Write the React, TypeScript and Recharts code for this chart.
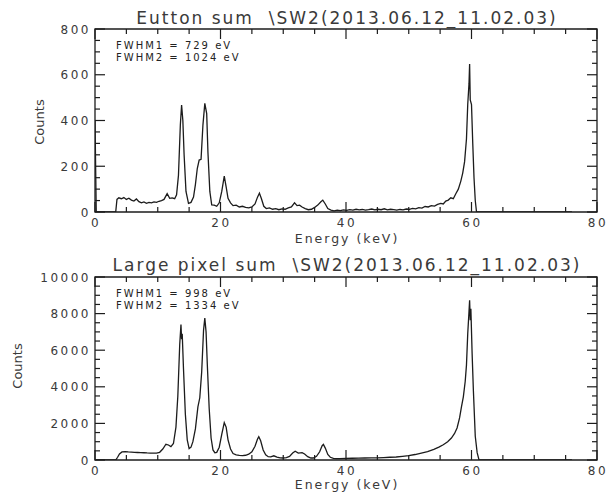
import { LineChart, Line, XAxis, YAxis, ReferenceLine, ReferenceArea } from "recharts";

// energy (keV) and counts
const buttonEnergy = [
  0, 0.2, 3.3, 3.5, 3.8, 4.2, 4.6, 5.0, 5.4, 5.8,
  6.2, 6.6, 7.0, 7.4, 7.8, 8.2, 8.6, 9.0, 9.4, 9.8,
  10.2, 10.6, 11.0, 11.5, 11.9, 12.3, 12.7, 13.0, 13.3, 13.6,
  13.8, 14.0, 14.2, 14.5, 14.9, 15.3, 15.7, 16.0, 16.3, 16.6,
  16.9, 17.2, 17.5, 17.8, 18.0, 18.3, 18.6, 19.0, 19.4, 19.8,
  20.2, 20.6, 20.9, 21.2, 21.6, 22.0, 22.5, 23.0, 23.5, 24.0,
  24.5, 25.0, 25.5, 25.9, 26.2, 26.5, 26.9, 27.3, 27.8, 28.3,
  28.8, 29.3, 29.8, 30.3, 30.8, 31.3, 31.8, 32.2, 32.6, 33.0,
  33.5, 34.0, 34.5, 35.0, 35.5, 36.0, 36.3, 36.7, 37.1, 37.6,
  38.1, 38.6, 39.1, 39.6, 40.1, 40.6, 41.1, 41.6, 42.1, 42.6,
  43.1, 43.6, 44.1, 44.6, 45.1, 45.6, 46.1, 46.6, 47.1, 47.6,
  48.1, 48.6, 49.1, 49.6, 50.1, 50.6, 51.1, 51.6, 52.1, 52.6,
  53.1, 53.6, 54.1, 54.6, 55.1, 55.5, 55.9, 56.3, 56.7, 57.1,
  57.5, 57.9, 58.3, 58.6, 58.9, 59.2, 59.4, 59.6, 59.7, 59.8,
  60.0, 60.2, 60.4, 60.6, 60.8, 76,
];
const buttonCounts = [
  400, 0, 0, 55, 62, 58, 63, 55, 60, 52,
  48, 57, 45, 40, 44, 38, 42, 40, 44, 42,
  47, 50, 55, 80, 60, 62, 58, 75, 160, 380,
  468, 400, 250, 90, 38, 42, 65, 120, 190, 227,
  230, 380, 475, 430, 260, 90, 31, 30, 25, 40,
  90, 157, 110, 60, 40, 28, 30, 22, 25, 20,
  18, 22, 35, 65, 82, 60, 25, 15, 18, 12,
  15, 10, 14, 12, 18, 22, 40, 28, 30, 22,
  15, 10, 12, 20, 30, 45, 52, 35, 15, 8,
  5, 8, 6, 9, 7, 10, 8, 12, 9, 11,
  8, 10, 13, 9, 12, 10, 14, 9, 12, 10,
  8, 11, 9, 13, 12, 16, 14, 19, 17, 24,
  22, 28, 26, 33, 38, 35, 48, 52, 62, 58,
  80, 100, 135, 170, 220, 320, 470, 560, 647, 490,
  470, 300, 150, 50, 0, 0,
];

const pixelEnergy = [
  0, 3.3, 3.6, 3.9, 4.3, 4.8, 5.3, 5.8, 6.3, 6.8,
  7.3, 7.8, 8.3, 8.8, 9.3, 9.8, 10.3, 10.8, 11.3, 11.7,
  12.1, 12.5, 12.9, 13.2, 13.5, 13.7, 13.8, 13.9, 14.1, 14.4,
  14.7, 15.0, 15.3, 15.6, 16.0, 16.4, 16.7, 17.0, 17.3, 17.5,
  17.7, 17.9, 18.2, 18.5, 18.8, 19.1, 19.4, 19.8, 20.2, 20.6,
  20.9, 21.2, 21.6, 22.0, 22.5, 23.0, 23.5, 24.0, 24.5, 25.0,
  25.5, 25.9, 26.1, 26.4, 26.8, 27.2, 27.6, 28.0, 28.5, 29.0,
  29.5, 30.0, 30.5, 31.0, 31.5, 31.9, 32.4, 33.0, 33.4, 33.9,
  34.4, 34.8, 35.3, 35.8, 36.2, 36.4, 36.7, 37.1, 37.5, 38.0,
  38.5, 39.0, 40, 41, 42, 43, 44, 45, 46, 47,
  48, 49, 50, 51, 52, 53, 54, 54.8, 55.5, 56.2,
  56.8, 57.3, 57.7, 58.1, 58.4, 58.7, 59.0, 59.2, 59.4, 59.6,
  59.7, 59.8, 59.9, 60.1, 60.3, 60.6, 60.9, 61.2, 76,
];
const pixelCounts = [
  0, 0, 150, 330, 440, 460, 440, 430, 420, 410,
  400, 395, 385, 380, 375, 380, 420, 600, 860, 820,
  730, 900, 1800, 3500, 6300, 7400, 6600, 6900, 5000, 2500,
  1100, 620, 700, 1000, 1700, 2900, 3400, 4800, 7100, 7750,
  7000, 5200, 2800, 1200, 550, 400, 420, 700, 1400, 2040,
  1800, 1100, 600, 350, 280, 250, 240, 260, 320, 450,
  750, 1150, 1270, 1050, 550, 280, 180, 170, 230, 160,
  120, 110, 130, 200, 380, 480, 380, 400, 330, 180,
  110, 110, 200, 450, 780, 850, 650, 300, 150, 90,
  70, 80, 85, 95, 100, 110, 115, 120, 135, 150,
  165, 200, 240, 300, 380, 460, 580, 700, 830, 1000,
  1200, 1450, 1750, 2300, 2900, 3450, 4300, 5200, 6900, 8100,
  8730, 7640, 8270, 5800, 3800, 1300, 400, 0, 0,
];

const energyTicks = [0, 5, 10, 15, 20, 25, 30, 35, 40, 45, 50, 55, 60, 65, 70, 75, 80];
const buttonTicks = [0, 50, 100, 150, 200, 250, 300, 350, 400, 450, 500, 550, 600, 650, 700, 750, 800];
const pixelTicks = Array.from({ length: 21 }, (_, i) => i * 500);

const buttonData = buttonEnergy.map((e, i) => ({ e, c: buttonCounts[i] }));
const pixelData = pixelEnergy.map((e, i) => ({ e, c: pixelCounts[i] }));

const INK = "#1c1c1c";
const TEXT = "#3a3a3a";
const FONT = "'DejaVu Sans', sans-serif";
const PLOT_W = 502;
const PLOT_H = 183;
const X_MAX = 80;

// tick labels only, the tick marks themselves are drawn inward as reference segments
const makeLabel = (side: string, major: number) => (props: any) => {
  const { x, y, payload } = props;
  const v = payload.value;
  if (v % major !== 0) return <g />;
  if (side === "bottom")
    return (
      <text x={x + 1} y={y + 15} textAnchor="middle" fontSize={12} letterSpacing={2.5} fill={TEXT} fontFamily={FONT}>
        {v}
      </text>
    );
  return (
    <text x={x - 4} y={y + 4.5} textAnchor="end" fontSize={12} letterSpacing={2.5} fill={TEXT} fontFamily={FONT}>
      {v}
    </text>
  );
};

interface PanelProps {
  data: { e: number; c: number }[];
  top: number;
  marginTop: number;
  yMax: number;
  yTicks: number[];
  yMajor: number;
}

const Panel = ({ data, top, marginTop, yMax, yTicks, yMajor }: PanelProps) => {
  // tick lengths (10 px major, 5 px minor) turned into data units
  const xLen = (v: number) => ((v % 20 === 0 ? 10 : 5) * yMax) / PLOT_H;
  const yLen = (v: number) => ((v % yMajor === 0 ? 10 : 5) * X_MAX) / PLOT_W;
  return (
    <div style={{ position: "absolute", left: 0, top }}>
      <LineChart width={613} height={246} data={data} margin={{ top: marginTop, right: 16, bottom: 0, left: 0 }}>
        <XAxis
          dataKey="e"
          type="number"
          domain={[0, X_MAX]}
          ticks={energyTicks}
          interval={0}
          allowDataOverflow
          height={246 - marginTop - PLOT_H}
          tickSize={0}
          tickLine={false}
          tickMargin={0}
          axisLine={false}
          tick={makeLabel("bottom", 20)}
        />
        <YAxis
          type="number"
          domain={[0, yMax]}
          ticks={yTicks}
          interval={0}
          allowDataOverflow
          width={95}
          tickSize={0}
          tickLine={false}
          tickMargin={0}
          axisLine={false}
          tick={makeLabel("left", yMajor)}
        />
        <ReferenceArea
          x1={0}
          x2={X_MAX}
          y1={0}
          y2={yMax}
          fill="none"
          stroke={INK}
          strokeWidth={1.3}
          ifOverflow="visible"
        />
        {energyTicks.map((t) => (
          <ReferenceLine key={"b" + t} segment={[{ x: t, y: 0 }, { x: t, y: xLen(t) }]} stroke={INK} strokeWidth={1.2} ifOverflow="visible" />
        ))}
        {energyTicks.map((t) => (
          <ReferenceLine key={"t" + t} segment={[{ x: t, y: yMax }, { x: t, y: yMax - xLen(t) }]} stroke={INK} strokeWidth={1.2} ifOverflow="visible" />
        ))}
        {yTicks.map((t) => (
          <ReferenceLine key={"l" + t} segment={[{ x: 0, y: t }, { x: yLen(t), y: t }]} stroke={INK} strokeWidth={1.2} ifOverflow="visible" />
        ))}
        {yTicks.map((t) => (
          <ReferenceLine key={"r" + t} segment={[{ x: X_MAX, y: t }, { x: X_MAX - yLen(t), y: t }]} stroke={INK} strokeWidth={1.2} ifOverflow="visible" />
        ))}
        <Line
          dataKey="c"
          type="linear"
          stroke={INK}
          strokeWidth={1.3}
          dot={false}
          isAnimationActive={false}
        />
      </LineChart>
    </div>
  );
};

export default function App() {
  return (
    <div style={{ position: "absolute", left: 0, top: 0, width: 613, height: 493, background: "#fff", overflow: "hidden" }}>
      <Panel data={buttonData} top={0} marginTop={29} yMax={800} yTicks={buttonTicks} yMajor={200} />
      <Panel data={pixelData} top={247} marginTop={30} yMax={10000} yTicks={pixelTicks} yMajor={2000} />
      <svg width={613} height={493} style={{ position: "absolute", left: 0, top: 0, pointerEvents: "none" }}>
        <g fontFamily={FONT} fill={TEXT}>
          <text x={347} y={24} textAnchor="middle" fontSize={17} letterSpacing={2} style={{ whiteSpace: "pre" }}>
            {"Eutton sum  \\SW2(2013.06.12_11.02.03)"}
          </text>
          <text x={347} y={271} textAnchor="middle" fontSize={17} letterSpacing={2} style={{ whiteSpace: "pre" }}>
            {"Large pixel sum  \\SW2(2013.06.12_11.02.03)"}
          </text>
          <text x={347} y={243} textAnchor="middle" fontSize={12.5} letterSpacing={2}>
            Energy (keV)
          </text>
          <text x={347} y={488.5} textAnchor="middle" fontSize={12.5} letterSpacing={2}>
            Energy (keV)
          </text>
          <text x={44} y={122} textAnchor="middle" fontSize={13} transform="rotate(-90 44 122)">
            Counts
          </text>
          <text x={22} y={366} textAnchor="middle" fontSize={13} transform="rotate(-90 22 366)">
            Counts
          </text>
          <g fontSize={10} letterSpacing={2} fill="#222" style={{ whiteSpace: "pre" }}>
            <text x={116} y={49}>FWHM1 = 729 eV</text>
            <text x={116} y={60.5}>FWHM2 = 1024 eV</text>
            <text x={116} y={297}>FWHM1 = 998 eV</text>
            <text x={116} y={308.5}>FWHM2 = 1334 eV</text>
          </g>
        </g>
      </svg>
    </div>
  );
}
